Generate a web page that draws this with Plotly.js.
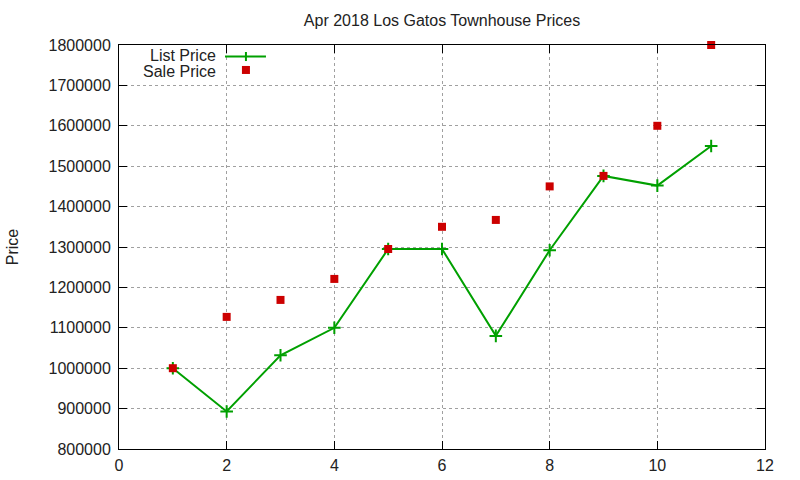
<!DOCTYPE html>
<html><head><meta charset="utf-8">
<script src="https://cdn.plot.ly/plotly-3.0.1.min.js"></script>
<style>html,body{margin:0;padding:0;background:#fff}#chart{width:800px;height:480px}</style>
</head><body><div id="chart"></div>
<script>
const months = [1,2,3,4,5,6,7,8,9,10,11];
const listPrice = [1000000, 893000, 1032000, 1100000, 1295000, 1295000, 1080000, 1292000, 1476000, 1452000, 1550000];
const salePrice = [1000000, 1127000, 1169000, 1221000, 1295000, 1350000, 1367000, 1450000, 1476000, 1600000, 1800000];
const seriesNames = ['List Price', 'Sale Price'];
const xTicks = [0,2,4,6,8,10,12];
const yTicks = [800000,900000,1000000,1100000,1200000,1300000,1400000,1500000,1600000,1700000,1800000];

const green = '#00a000', red = '#cc0000';
const fnt = {family: 'Liberation Sans, Arial, sans-serif', size: 16, color: '#222'};

const traces = [
  {x: months, y: listPrice, name: seriesNames[0], type: 'scatter', mode: 'lines+markers',
   line: {color: green, width: 2},
   marker: {symbol: 'cross-thin', size: 9, color: green, line: {color: green, width: 2}},
   cliponaxis: false},
  {x: months, y: salePrice, name: seriesNames[1], type: 'scatter', mode: 'markers',
   marker: {symbol: 'square', size: 8, color: red},
   cliponaxis: false}
];

const axisCommon = {
  showline: true, linecolor: '#000', linewidth: 1, mirror: 'ticks',
  ticks: 'inside', ticklen: 8, tickcolor: '#000', tickwidth: 1,
  showgrid: true, gridcolor: '#a0a0a0', griddash: 'dot', gridwidth: 1,
  zeroline: false, tickfont: fnt
};

const layout = {
  width: 800, height: 480,
  margin: {l: 119, r: 35, t: 45, b: 31},
  paper_bgcolor: '#fff', plot_bgcolor: '#fff',
  font: fnt,
  showlegend: false,
  title: {text: 'Apr 2018 Los Gatos Townhouse Prices', font: fnt, x: 0.5525, xanchor: 'center', y: 0.958, yanchor: 'middle'},
  xaxis: Object.assign({}, axisCommon, {range: [0, 12], tickvals: xTicks, ticktext: xTicks.map(String), ticklabelstandoff: 2}),
  yaxis: Object.assign({}, axisCommon, {range: [800000, 1800000], tickvals: yTicks, ticktext: yTicks.map(String),
    ticklabelstandoff: 4,
    title: {text: 'Price', font: fnt, standoff: 25}}),
  annotations: [
    {xref: 'paper', yref: 'paper', x: 0.1535, y: 0.9752, xanchor: 'right', yanchor: 'middle', text: seriesNames[0], showarrow: false, font: fnt, height: 15},
    {xref: 'paper', yref: 'paper', x: 0.1535, y: 0.9356, xanchor: 'right', yanchor: 'middle', text: seriesNames[1], showarrow: false, font: fnt, height: 15}
  ],
  shapes: [
    {type: 'line', xref: 'paper', yref: 'paper', x0: 0.1641, x1: 0.2275, y0: 0.9715, y1: 0.9715, line: {color: green, width: 2}},
    {type: 'line', xref: 'paper', yref: 'paper', x0: 0.1965, x1: 0.1965, y0: 0.9603, y1: 0.9827, line: {color: green, width: 2}},
    {type: 'rect', xref: 'paper', yref: 'paper', x0: 0.1903, x1: 0.2027, y0: 0.9283, y1: 0.9481, fillcolor: red, line: {width: 0}}
  ]
};

Plotly.newPlot('chart', traces, layout, {staticPlot: true, displayModeBar: false});
</script></body></html>
